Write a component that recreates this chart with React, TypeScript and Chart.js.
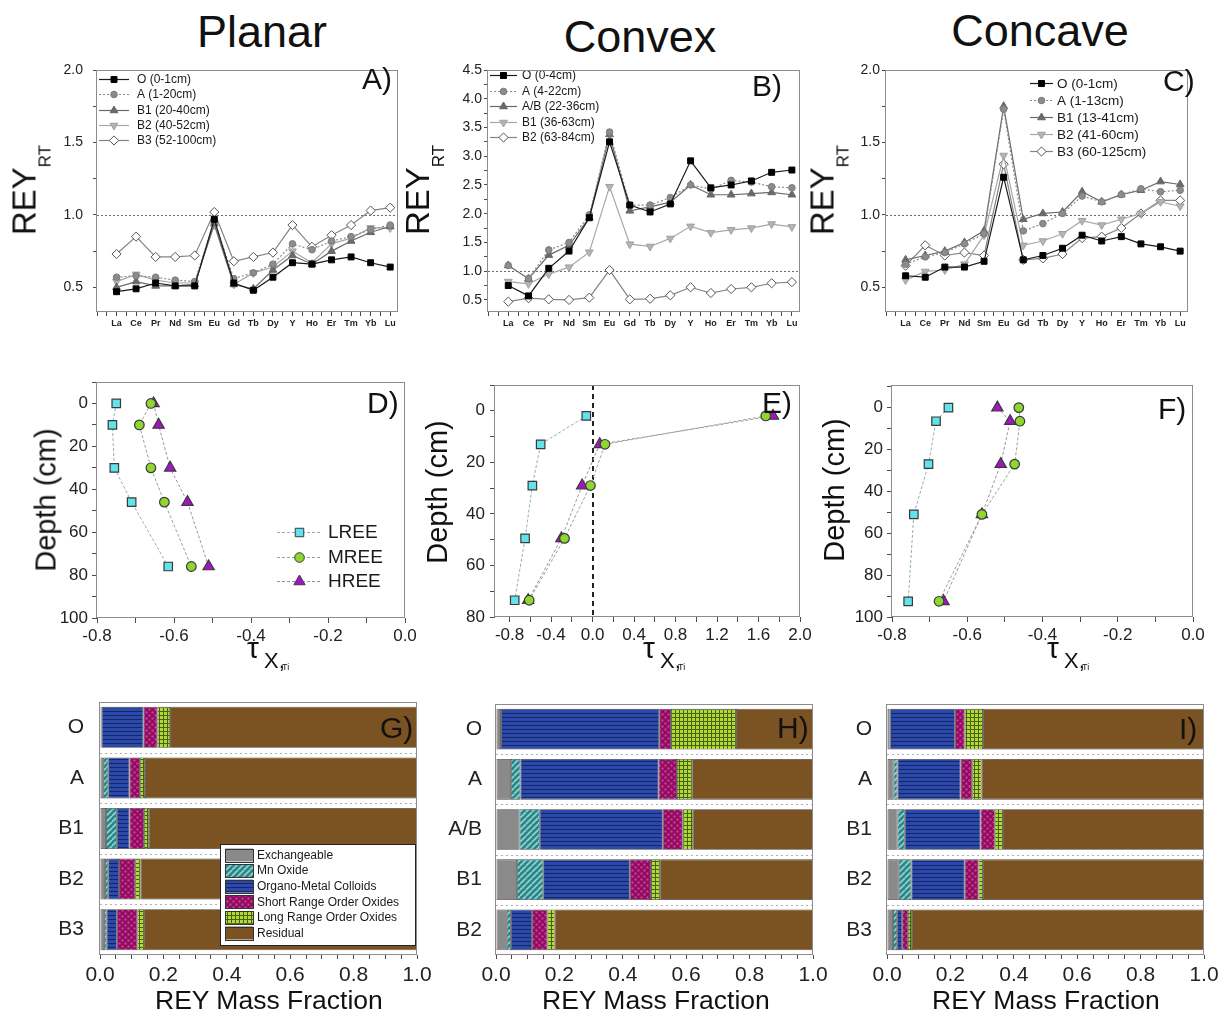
import React, { useEffect, useRef } from 'react';
import { Chart, registerables } from 'chart.js';

Chart.register(...registerables);

const FONT = '"Liberation Sans", Arial, Helvetica, sans-serif';
Chart.defaults.font.family = FONT;
Chart.defaults.color = '#222';

// ---------------- data: REY patterns (A, B, C) ----------------
const elements = ['La', 'Ce', 'Pr', 'Nd', 'Sm', 'Eu', 'Gd', 'Tb', 'Dy', 'Y', 'Ho', 'Er', 'Tm', 'Yb', 'Lu'];

const planarLabels = ['O (0-1cm)', 'A (1-20cm)', 'B1 (20-40cm)', 'B2 (40-52cm)', 'B3 (52-100cm)'];
const planarO = [0.47, 0.49, 0.53, 0.51, 0.51, 0.97, 0.53, 0.48, 0.57, 0.67, 0.66, 0.69, 0.71, 0.67, 0.64];
const planarA = [0.57, 0.58, 0.57, 0.55, 0.54, 0.96, 0.56, 0.6, 0.66, 0.8, 0.76, 0.82, 0.85, 0.9, 0.93];
const planarB1 = [0.5, 0.54, 0.51, 0.51, 0.52, 0.94, 0.52, 0.49, 0.62, 0.72, 0.66, 0.75, 0.82, 0.88, 0.92];
const planarB2 = [0.54, 0.59, 0.55, 0.53, 0.53, 0.93, 0.52, 0.6, 0.64, 0.75, 0.67, 0.8, 0.84, 0.91, 0.91];
const planarB3 = [0.73, 0.85, 0.71, 0.71, 0.72, 1.02, 0.68, 0.71, 0.74, 0.93, 0.78, 0.86, 0.93, 1.03, 1.05];

const convexLabels = ['O (0-4cm)', 'A (4-22cm)', 'A/B (22-36cm)', 'B1 (36-63cm)', 'B2 (63-84cm)'];
const convexO = [0.75, 0.57, 1.05, 1.35, 1.93, 3.25, 2.15, 2.03, 2.17, 2.92, 2.45, 2.5, 2.57, 2.72, 2.76];
const convexA = [1.1, 0.87, 1.37, 1.5, 1.98, 3.42, 2.15, 2.15, 2.28, 2.5, 2.43, 2.58, 2.55, 2.47, 2.45];
const convexAB = [1.1, 0.87, 1.28, 1.45, 1.93, 3.38, 2.05, 2.12, 2.2, 2.5, 2.33, 2.33, 2.35, 2.37, 2.33];
const convexB1 = [0.82, 0.78, 0.95, 1.07, 1.33, 2.47, 1.47, 1.43, 1.57, 1.78, 1.67, 1.72, 1.75, 1.82, 1.77];
const convexB2 = [0.47, 0.53, 0.51, 0.5, 0.54, 1.02, 0.51, 0.52, 0.58, 0.72, 0.62, 0.69, 0.72, 0.79, 0.81];

const concaveLabels = ['O (0-1cm)', 'A (1-13cm)', 'B1 (13-41cm)', 'B2 (41-60cm)', 'B3 (60-125cm)'];
const concaveO = [0.58, 0.57, 0.64, 0.64, 0.68, 1.26, 0.69, 0.72, 0.77, 0.86, 0.82, 0.85, 0.8, 0.78, 0.75];
const concaveA = [0.66, 0.71, 0.74, 0.8, 0.87, 1.73, 0.89, 0.94, 1.01, 1.13, 1.09, 1.14, 1.18, 1.16, 1.17];
const concaveB1 = [0.69, 0.72, 0.75, 0.81, 0.89, 1.75, 0.97, 1.01, 1.02, 1.16, 1.09, 1.14, 1.17, 1.23, 1.21];
const concaveB2 = [0.55, 0.61, 0.62, 0.66, 0.86, 1.41, 0.79, 0.82, 0.87, 0.96, 0.93, 0.97, 1.01, 1.09, 1.06];
const concaveB3 = [0.65, 0.79, 0.72, 0.74, 0.72, 1.35, 0.69, 0.7, 0.73, 0.84, 0.85, 0.91, 1.01, 1.1, 1.1];

const reyTicksSmall = [0.5, 1.0, 1.5, 2.0];
const reyTicksLarge = [0.5, 1.0, 1.5, 2.0, 2.5, 3.0, 3.5, 4.0, 4.5];

// ---------------- data: tau profiles (D, E, F) ----------------
const tauLabels = ['LREE', 'MREE', 'HREE'];
const planarDepth = [0, 10, 30, 46, 76];
const planarLREE = [-0.75, -0.76, -0.755, -0.71, -0.615];
const planarMREE = [-0.66, -0.69, -0.66, -0.625, -0.555];
const planarHREE = [-0.653, -0.64, -0.61, -0.565, -0.51];

const convexDepth = [2, 13, 29, 49.5, 73.5];
const convexLREE = [-0.06, -0.5, -0.58, -0.65, -0.75];
const convexMREE = [1.67, 0.12, -0.02, -0.27, -0.61];
const convexHREE = [1.74, 0.07, -0.1, -0.3, -0.62];

const concaveDepth = [0, 6.5, 27, 51, 92.5];
const concaveLREE = [-0.65, -0.683, -0.703, -0.742, -0.757];
const concaveMREE = [-0.463, -0.46, -0.474, -0.561, -0.675];
const concaveHREE = [-0.52, -0.486, -0.511, -0.561, -0.663];

const tauTicksNarrow = [-0.8, -0.6, -0.4, -0.2, 0.0];
const tauTicksWide = [-0.8, -0.4, 0.0, 0.4, 0.8, 1.2, 1.6, 2.0];
const depthTicks100 = [0, 20, 40, 60, 80, 100];
const depthTicks80 = [0, 20, 40, 60, 80];

// ---------------- data: REY mass fractions (G, H, I) ----------------
const fractionNames = ['Exchangeable', 'Mn Oxide', 'Organo-Metal Colloids', 'Short Range Order Oxides', 'Long Range Order Oxides', 'Residual'];

const planarHorizons = ['O', 'A', 'B1', 'B2', 'B3'];
const planarExch = [0.003, 0.01, 0.019, 0.016, 0.013];
const planarMn = [0.002, 0.016, 0.034, 0.01, 0.008];
const planarOMC = [0.132, 0.067, 0.04, 0.034, 0.032];
const planarSRO = [0.044, 0.033, 0.046, 0.051, 0.065];
const planarLRO = [0.04, 0.016, 0.016, 0.017, 0.021];
const planarRes = [0.779, 0.858, 0.845, 0.872, 0.861];

const convexHorizons = ['O', 'A', 'A/B', 'B1', 'B2'];
const convexExch = [0.013, 0.047, 0.074, 0.066, 0.034];
const convexMn = [0.003, 0.03, 0.064, 0.083, 0.013];
const convexOMC = [0.499, 0.436, 0.388, 0.273, 0.067];
const convexSRO = [0.037, 0.058, 0.063, 0.067, 0.048];
const convexLRO = [0.205, 0.048, 0.033, 0.029, 0.023];
const convexRes = [0.243, 0.381, 0.378, 0.482, 0.815];

const concaveHorizons = ['O', 'A', 'B1', 'B2', 'B3'];
const concaveExch = [0.008, 0.021, 0.033, 0.037, 0.019];
const concaveMn = [0.002, 0.012, 0.023, 0.04, 0.013];
const concaveOMC = [0.204, 0.199, 0.239, 0.168, 0.016];
const concaveSRO = [0.031, 0.037, 0.045, 0.044, 0.018];
const concaveLRO = [0.058, 0.029, 0.026, 0.014, 0.013];
const concaveRes = [0.697, 0.702, 0.634, 0.697, 0.921];

const fractionTicks = [0.0, 0.2, 0.4, 0.6, 0.8, 1.0];

// ---------------- styles ----------------
const reyStyles = [
  { borderColor: '#1a1a1a', borderDash: [], pointStyle: 'rect', pointRadius: 4.2, pointRotation: 0, pointBackgroundColor: '#000', pointBorderColor: '#000' },
  { borderColor: '#8a8a8a', borderDash: [2, 2], pointStyle: 'circle', pointRadius: 3.3, pointRotation: 0, pointBackgroundColor: '#8c8c8c', pointBorderColor: '#7a7a7a' },
  { borderColor: '#6a6a6a', borderDash: [], pointStyle: 'triangle', pointRadius: 4.5, pointRotation: 0, pointBackgroundColor: '#6a6a6a', pointBorderColor: '#666' },
  { borderColor: '#a8a8a8', borderDash: [], pointStyle: 'triangle', pointRadius: 4.5, pointRotation: 180, pointBackgroundColor: '#b4b4b4', pointBorderColor: '#a0a0a0' },
  { borderColor: '#858585', borderDash: [], pointStyle: 'rectRot', pointRadius: 4.6, pointRotation: 0, pointBackgroundColor: '#ffffff', pointBorderColor: '#555' },
];

const tauStyles = [
  { borderColor: '#8fb0b4', borderDash: [3, 2], pointStyle: 'rect', pointRadius: 6, pointRotation: 0, pointBackgroundColor: '#62e2ea', pointBorderColor: '#3a3a3a' },
  { borderColor: '#98a68c', borderDash: [3, 2], pointStyle: 'circle', pointRadius: 4.8, pointRotation: 0, pointBackgroundColor: '#8fd630', pointBorderColor: '#3a3a3a' },
  { borderColor: '#a090a6', borderDash: [3, 2], pointStyle: 'triangle', pointRadius: 6.5, pointRotation: 0, pointBackgroundColor: '#a414c6', pointBorderColor: '#3a3a3a' },
];

// ---------------- helpers ----------------
type Rect = { l: number; t: number; r: number; b: number };
type Margin = { left: number; top: number; right: number; bottom: number };

function tickValues(majors: number[], sub: number, min: number, max: number) {
  const step = (majors[1] - majors[0]) / sub;
  const start = majors[0] - Math.floor((majors[0] - min) / step + 1e-9) * step;
  const out: number[] = [];
  for (let v = start; v <= max + 1e-9; v += step) out.push(Math.round(v * 1e6) / 1e6);
  return out;
}
const isMajor = (v: number, majors: number[]) => majors.some((m) => Math.abs(m - v) < 1e-6);

function drawMarker(ctx: CanvasRenderingContext2D, style: string, x: number, y: number, r: number, rot: number, fill: string, stroke: string) {
  ctx.save();
  ctx.translate(x, y);
  ctx.rotate(((rot || 0) * Math.PI) / 180);
  ctx.beginPath();
  if (style === 'rect') {
    const s = r * Math.SQRT1_2;
    ctx.rect(-s, -s, 2 * s, 2 * s);
  } else if (style === 'triangle') {
    for (let k = 0; k < 3; k++) {
      const a = (k * 2 * Math.PI) / 3;
      const px = Math.sin(a) * r;
      const py = -Math.cos(a) * r;
      if (k) ctx.lineTo(px, py);
      else ctx.moveTo(px, py);
    }
    ctx.closePath();
  } else if (style === 'rectRot') {
    ctx.moveTo(0, -r);
    ctx.lineTo(r, 0);
    ctx.lineTo(0, r);
    ctx.lineTo(-r, 0);
    ctx.closePath();
  } else {
    ctx.arc(0, 0, r, 0, Math.PI * 2);
  }
  ctx.fillStyle = fill;
  ctx.fill();
  ctx.lineWidth = 1;
  ctx.strokeStyle = stroke;
  ctx.stroke();
  ctx.restore();
}

const framePlugin = {
  id: 'frame',
  afterDraw(chart: any) {
    const { ctx, chartArea: ca } = chart;
    ctx.save();
    ctx.strokeStyle = '#8c8c8c';
    ctx.lineWidth = 1;
    const l = Math.round(ca.left) - 0.5;
    const t = Math.round(ca.top) + 0.5;
    ctx.strokeRect(l, t, Math.round(ca.right) - Math.round(ca.left), Math.round(ca.bottom) - Math.round(ca.top) - 1);
    ctx.restore();
  },
};

const refLinePlugin = {
  id: 'refLine',
  beforeDatasetsDraw(chart: any, _a: any, opts: any) {
    if (!opts || (opts.x === undefined && opts.y === undefined)) return;
    const { ctx, chartArea: ca, scales } = chart;
    ctx.save();
    ctx.strokeStyle = opts.color;
    ctx.lineWidth = opts.width;
    ctx.setLineDash(opts.dash || []);
    ctx.beginPath();
    if (opts.y !== undefined) {
      const py = Math.round(scales.y.getPixelForValue(opts.y)) + 0.5;
      ctx.moveTo(ca.left, py);
      ctx.lineTo(ca.right, py);
    }
    if (opts.x !== undefined) {
      const px = Math.round(scales.x.getPixelForValue(opts.x));
      ctx.moveTo(px, ca.top);
      ctx.lineTo(px, ca.bottom);
    }
    ctx.stroke();
    ctx.restore();
  },
};

const lineLegendPlugin = {
  id: 'lineLegend',
  afterDatasetsDraw(chart: any, _a: any, opts: any) {
    if (!opts || opts.x0 === undefined) return;
    const { ctx, chartArea: ca } = chart;
    ctx.save();
    chart.data.datasets.forEach((ds: any, i: number) => {
      const y = Math.round(ca.top + opts.y0 + i * opts.dy) + 0.5;
      const x1 = ca.left + opts.x0;
      const x2 = ca.left + opts.x1;
      ctx.setLineDash(ds.borderDash || []);
      ctx.strokeStyle = ds.borderColor;
      ctx.lineWidth = ds.borderWidth || 1;
      ctx.beginPath();
      ctx.moveTo(x1, y);
      ctx.lineTo(x2, y);
      ctx.stroke();
      ctx.setLineDash([]);
      drawMarker(ctx, ds.pointStyle, (x1 + x2) / 2, y, ds.pointRadius, ds.pointRotation, ds.pointBackgroundColor, ds.pointBorderColor);
      ctx.fillStyle = '#1a1a1a';
      ctx.font = `${opts.size}px ${FONT}`;
      ctx.textAlign = 'left';
      ctx.textBaseline = 'middle';
      ctx.fillText(ds.label, ca.left + opts.tx, y + 0.5);
    });
    ctx.restore();
  },
};

const barSepPlugin = {
  id: 'barSep',
  beforeDatasetsDraw(chart: any) {
    const { ctx, chartArea: ca, scales } = chart;
    const ys = scales.y;
    const n = chart.data.labels.length;
    ctx.save();
    ctx.strokeStyle = '#b0b0b0';
    ctx.lineWidth = 1;
    ctx.setLineDash([2, 3]);
    for (let i = 0; i < n - 1; i++) {
      const py = Math.round((ys.getPixelForValue(i) + ys.getPixelForValue(i + 1)) / 2) + 0.5;
      ctx.beginPath();
      ctx.moveTo(ca.left, py);
      ctx.lineTo(ca.right, py);
      ctx.stroke();
    }
    ctx.restore();
  },
};

const barLegendPlugin = {
  id: 'barLegend',
  afterDatasetsDraw(chart: any, _a: any, opts: any) {
    if (!opts || opts.x === undefined) return;
    const { ctx, chartArea: ca } = chart;
    ctx.save();
    const bx = Math.round(ca.left + opts.x) + 0.5;
    const by = Math.round(ca.top + opts.y) + 0.5;
    ctx.fillStyle = '#fff';
    ctx.fillRect(bx, by, opts.w, opts.h);
    ctx.strokeStyle = '#222';
    ctx.lineWidth = 1;
    ctx.strokeRect(bx, by, opts.w, opts.h);
    chart.data.datasets.forEach((ds: any, i: number) => {
      const cy = ca.top + opts.ty0 + i * opts.dy;
      ctx.fillStyle = ds.backgroundColor;
      ctx.fillRect(ca.left + opts.sx, cy - opts.sh / 2, opts.sw, opts.sh);
      ctx.strokeStyle = '#333';
      ctx.strokeRect(Math.round(ca.left + opts.sx) + 0.5, Math.round(cy - opts.sh / 2) + 0.5, opts.sw, opts.sh);
      ctx.fillStyle = '#1a1a1a';
      ctx.font = `${opts.size}px ${FONT}`;
      ctx.textAlign = 'left';
      ctx.textBaseline = 'middle';
      ctx.fillText(ds.label, ca.left + opts.tx, cy + 0.5);
    });
    ctx.restore();
  },
};

function makeTile(w: number, h: number, draw: (g: CanvasRenderingContext2D) => void) {
  const c = document.createElement('canvas');
  c.width = w;
  c.height = h;
  const g = c.getContext('2d')!;
  draw(g);
  return g.createPattern(c, 'repeat');
}

function fractionFills() {
  const exch = '#8a8a8a';
  const mn = makeTile(6, 6, (g) => {
    g.fillStyle = '#2c8688';
    g.fillRect(0, 0, 6, 6);
    g.strokeStyle = '#8fd4d0';
    g.lineWidth = 1.6;
    for (const o of [-6, 0, 6]) {
      g.beginPath();
      g.moveTo(o, 6);
      g.lineTo(o + 6, 0);
      g.stroke();
    }
  });
  const omc = makeTile(4, 4, (g) => {
    g.fillStyle = '#2b49a8';
    g.fillRect(0, 0, 4, 4);
    g.fillStyle = '#16246a';
    g.fillRect(0, 3, 4, 1);
  });
  const sro = makeTile(6, 6, (g) => {
    g.fillStyle = '#8c0e60';
    g.fillRect(0, 0, 6, 6);
    g.fillStyle = '#e03c9a';
    g.fillRect(0.5, 0.5, 2, 2);
    g.fillRect(3.5, 3.5, 2, 2);
  });
  const lro = makeTile(4, 4, (g) => {
    g.fillStyle = '#b4d836';
    g.fillRect(0, 0, 4, 4);
    g.fillStyle = '#45620e';
    g.fillRect(3, 0, 1, 4);
    g.fillRect(0, 3, 4, 1);
  });
  const res = '#7b5322';
  return [exch, mn, omc, sro, lro, res];
}

function baseOptions(m: Margin, plugins: any) {
  return {
    responsive: false,
    maintainAspectRatio: false,
    animation: false,
    devicePixelRatio: 1,
    events: [],
    layout: { padding: { left: 0, top: m.top, right: m.right, bottom: 0 } },
    plugins: { legend: { display: false }, tooltip: { enabled: false }, ...plugins },
  };
}

function linearAxis(o: {
  min: number; max: number; majors: number[]; sub: number; size: number; fit: 'w' | 'h'; fitSize: number;
  pad: number; tick: number; fmt: (v: number) => string; bold?: boolean; reverse?: boolean;
}) {
  return {
    type: 'linear',
    min: o.min,
    max: o.max,
    reverse: !!o.reverse,
    afterBuildTicks: (s: any) => {
      s.ticks = tickValues(o.majors, o.sub, o.min, o.max).map((v) => ({ value: v }));
    },
    afterFit: (s: any) => {
      if (o.fit === 'w') s.width = o.fitSize;
      else s.height = o.fitSize;
    },
    grid: { display: true, drawOnChartArea: false, drawTicks: true, tickLength: o.tick, tickColor: '#4a4a4a', tickWidth: 1 },
    border: { display: false },
    ticks: {
      autoSkip: false,
      maxRotation: 0,
      minRotation: 0,
      padding: o.pad,
      color: '#222',
      font: { size: o.size, weight: o.bold ? 'bold' : 'normal' },
      callback: (v: number) => (isMajor(v, o.majors) ? o.fmt(v) : ''),
    },
  };
}

function reyConfig(m: Margin, labels: string[], series: number[][], yMin: number, yMax: number, yMajors: number[], yPad: number, legend: any) {
  const xMajors = elements.map((_, i) => i + 1);
  const datasets = series.map((vals, i) => ({
    label: labels[i],
    data: vals.map((v, j) => ({ x: j + 1, y: v })),
    borderWidth: 1.2,
    pointBorderWidth: 1,
    fill: false,
    tension: 0,
    ...reyStyles[i],
  }));
  return {
    type: 'line',
    data: { datasets },
    options: {
      ...baseOptions(m, { lineLegend: legend, refLine: { y: 1, color: '#6a6a6a', dash: [2, 2], width: 1 } }),
      scales: {
        x: linearAxis({
          min: 0, max: 15.4, majors: xMajors, sub: 2, size: 9, bold: true, fit: 'h', fitSize: m.bottom, pad: 2, tick: 4,
          fmt: (v) => elements[Math.round(v) - 1] || '',
        }),
        y: linearAxis({
          min: yMin, max: yMax, majors: yMajors, sub: 2, size: 14, fit: 'w', fitSize: m.left, pad: yPad, tick: 4,
          fmt: (v) => v.toFixed(1),
        }),
      },
    },
    plugins: [framePlugin, refLinePlugin, lineLegendPlugin],
  };
}

function tauConfig(m: Margin, depth: number[], series: number[][], xMin: number, xMax: number, xMajors: number[], yMin: number, yMax: number, yMajors: number[], yPad: number, extra: any) {
  const datasets = series.map((vals, i) => ({
    label: tauLabels[i],
    data: vals.map((v, j) => ({ x: v, y: depth[j] })),
    borderWidth: 1,
    pointBorderWidth: 1.2,
    fill: false,
    tension: 0,
    ...tauStyles[i],
  }));
  return {
    type: 'line',
    data: { datasets },
    options: {
      ...baseOptions(m, extra),
      scales: {
        x: linearAxis({
          min: xMin, max: xMax, majors: xMajors, sub: 2, size: 17, fit: 'h', fitSize: m.bottom, pad: 3, tick: 5,
          fmt: (v) => v.toFixed(1),
        }),
        y: linearAxis({
          min: yMin, max: yMax, majors: yMajors, sub: 2, size: 17, fit: 'w', fitSize: m.left, pad: yPad, tick: 5, reverse: true,
          fmt: (v) => String(Math.round(v)),
        }),
      },
    },
    plugins: [framePlugin, refLinePlugin, lineLegendPlugin],
  };
}

function barConfig(m: Margin, horizons: string[], fractions: number[][], yPad: number, legend: any) {
  const fills = fractionFills();
  const datasets = fractions.map((vals, i) => ({
    label: fractionNames[i],
    data: vals,
    backgroundColor: fills[i],
    borderColor: 'rgba(35,35,35,0.85)',
    borderWidth: 0.8,
    borderSkipped: false,
    barPercentage: 0.81,
    categoryPercentage: 1,
  }));
  return {
    type: 'bar',
    data: { labels: horizons, datasets },
    options: {
      ...baseOptions(m, { barLegend: legend }),
      indexAxis: 'y',
      scales: {
        x: {
          ...linearAxis({
            min: 0, max: 1, majors: fractionTicks, sub: 4, size: 21, fit: 'h', fitSize: m.bottom, pad: 4, tick: 4,
            fmt: (v) => v.toFixed(1),
          }),
          stacked: true,
        },
        y: {
          type: 'category',
          stacked: true,
          afterFit: (s: any) => {
            s.width = m.left;
          },
          grid: { display: false },
          border: { display: false },
          ticks: { padding: yPad, color: '#222', font: { size: 21 } },
        },
      },
    },
    plugins: [barSepPlugin, framePlugin, barLegendPlugin],
  };
}

function ChartBox({ rect, margin, make }: { rect: Rect; margin: Margin; make: (m: Margin) => any }) {
  const ref = useRef<HTMLCanvasElement>(null);
  const w = rect.r - rect.l + margin.left + margin.right;
  const h = rect.b - rect.t + margin.top + margin.bottom;
  useEffect(() => {
    const chart = new Chart(ref.current as HTMLCanvasElement, make(margin));
    return () => chart.destroy();
  }, []);
  return (
    <div style={{ position: 'absolute', left: rect.l - margin.left, top: rect.t - margin.top, width: w, height: h }}>
      <canvas ref={ref} width={w} height={h} style={{ width: w, height: h, display: 'block' }} />
    </div>
  );
}

const abs = (x: number, y: number, extra: any = {}) => ({ position: 'absolute' as const, left: x, top: y, lineHeight: 1, whiteSpace: 'nowrap' as const, ...extra });

function ReyTitle({ cx, cy }: { cx: number; cy: number }) {
  return (
    <div style={abs(cx, cy, { transform: 'translate(-50%,-50%) rotate(-90deg)', fontSize: 33 })}>
      REY<span style={{ fontSize: 17, position: 'relative', top: 15 }}>RT</span>
    </div>
  );
}

function DepthTitle({ cx, cy }: { cx: number; cy: number }) {
  return <div style={abs(cx, cy, { transform: 'translate(-50%,-50%) rotate(-90deg)', fontSize: 29 })}>Depth (cm)</div>;
}

function TauTitle({ x }: { x: number }) {
  return (
    <>
      <div style={abs(x, 633, { fontSize: 30 })}>τ</div>
      <div style={abs(x + 17, 650, { fontSize: 22 })}>X,</div>
      <div style={abs(x + 35, 663, { fontSize: 9 })}>Ti</div>
    </>
  );
}

function PanelLetter({ x, y, t }: { x: number; y: number; t: string }) {
  return <div style={abs(x, y, { fontSize: 30 })}>{t}</div>;
}

export default function App() {
  const mTop: Margin = { left: 45, top: 24, right: 10, bottom: 24 };
  const mTau: Margin = { left: 45, top: 22, right: 22, bottom: 32 };
  const mBar: Margin = { left: 60, top: 30, right: 20, bottom: 36 };

  return (
    <div style={{ position: 'absolute', left: 0, top: 0, width: 1225, height: 1013, background: '#fff', fontFamily: FONT, color: '#111', overflow: 'hidden' }}>
      <div style={abs(262, 9, { transform: 'translateX(-50%)', fontSize: 45 })}>Planar</div>
      <div style={abs(640, 14, { transform: 'translateX(-50%)', fontSize: 45 })}>Convex</div>
      <div style={abs(1040, 8, { transform: 'translateX(-50%)', fontSize: 45 })}>Concave</div>

      <ChartBox rect={{ l: 97, t: 70, r: 398, b: 312 }} margin={mTop}
        make={(m) => reyConfig(m, planarLabels, [planarO, planarA, planarB1, planarB2, planarB3], 0.33, 2.0, reyTicksSmall, 10,
          { x0: 2, x1: 32, tx: 40, y0: 9, dy: 15.3, size: 12 })} />
      <ChartBox rect={{ l: 488, t: 70, r: 800, b: 312 }} margin={mTop}
        make={(m) => reyConfig(m, convexLabels, [convexO, convexA, convexAB, convexB1, convexB2], 0.29, 4.5, reyTicksLarge, 2,
          { x0: 2, x1: 29, tx: 34, y0: 5, dy: 15.5, size: 12 })} />
      <ChartBox rect={{ l: 886, t: 70, r: 1188, b: 312 }} margin={mTop}
        make={(m) => reyConfig(m, concaveLabels, [concaveO, concaveA, concaveB1, concaveB2, concaveB3], 0.33, 2.0, reyTicksSmall, 2,
          { x0: 144, x1: 167, tx: 171, y0: 13, dy: 17, size: 13.5 })} />

      <ChartBox rect={{ l: 97, t: 382, r: 405, b: 618 }} margin={mTau}
        make={(m) => tauConfig(m, planarDepth, [planarLREE, planarMREE, planarHREE], -0.8, 0, tauTicksNarrow, -10, 100, depthTicks100, 4,
          { lineLegend: { x0: 180, x1: 225, tx: 231, y0: 150, dy: 24.5, size: 19 } })} />
      <ChartBox rect={{ l: 495, t: 385, r: 800, b: 617 }} margin={mTau}
        make={(m) => tauConfig(m, convexDepth, [convexLREE, convexMREE, convexHREE], -0.94, 2.0, tauTicksWide, -10, 80, depthTicks80, 5,
          { refLine: { x: 0, color: '#222', dash: [5, 4], width: 2 } })} />
      <ChartBox rect={{ l: 892, t: 385, r: 1193, b: 617 }} margin={mTau}
        make={(m) => tauConfig(m, concaveDepth, [concaveLREE, concaveMREE, concaveHREE], -0.8, 0, tauTicksNarrow, -10.8, 100, depthTicks100, 4, {})} />

      <ChartBox rect={{ l: 100, t: 702, r: 417, b: 955 }} margin={mBar}
        make={(m) => barConfig(m, planarHorizons, [planarExch, planarMn, planarOMC, planarSRO, planarLRO, planarRes], 8,
          { x: 120, y: 142, w: 195, h: 101, sx: 125, sw: 28, sh: 13, tx: 157, ty0: 153, dy: 15.6, size: 12 })} />
      <ChartBox rect={{ l: 496, t: 704, r: 813, b: 955 }} margin={mBar}
        make={(m) => barConfig(m, convexHorizons, [convexExch, convexMn, convexOMC, convexSRO, convexLRO, convexRes], 6, {})} />
      <ChartBox rect={{ l: 887, t: 704, r: 1204, b: 955 }} margin={mBar}
        make={(m) => barConfig(m, concaveHorizons, [concaveExch, concaveMn, concaveOMC, concaveSRO, concaveLRO, concaveRes], 7, {})} />

      <ReyTitle cx={24} cy={190} />
      <ReyTitle cx={417} cy={190} />
      <ReyTitle cx={822} cy={190} />
      <DepthTitle cx={46} cy={500} />
      <DepthTitle cx={437} cy={492} />
      <DepthTitle cx={834} cy={490} />
      <TauTitle x={247} />
      <TauTitle x={643} />
      <TauTitle x={1047} />
      <div style={abs(155, 986.5, { fontSize: 26.5 })}>REY Mass Fraction</div>
      <div style={abs(542, 986.5, { fontSize: 26.5 })}>REY Mass Fraction</div>
      <div style={abs(932, 986.5, { fontSize: 26.5 })}>REY Mass Fraction</div>

      <PanelLetter x={362} y={64} t="A)" />
      <PanelLetter x={752} y={71} t="B)" />
      <PanelLetter x={1163} y={66} t="C)" />
      <PanelLetter x={367} y={388} t="D)" />
      <PanelLetter x={762} y={388} t="E)" />
      <PanelLetter x={1158} y={394} t="F)" />
      <PanelLetter x={380} y={713} t="G)" />
      <PanelLetter x={777} y={713} t="H)" />
      <PanelLetter x={1179} y={714} t="I)" />
    </div>
  );
}
